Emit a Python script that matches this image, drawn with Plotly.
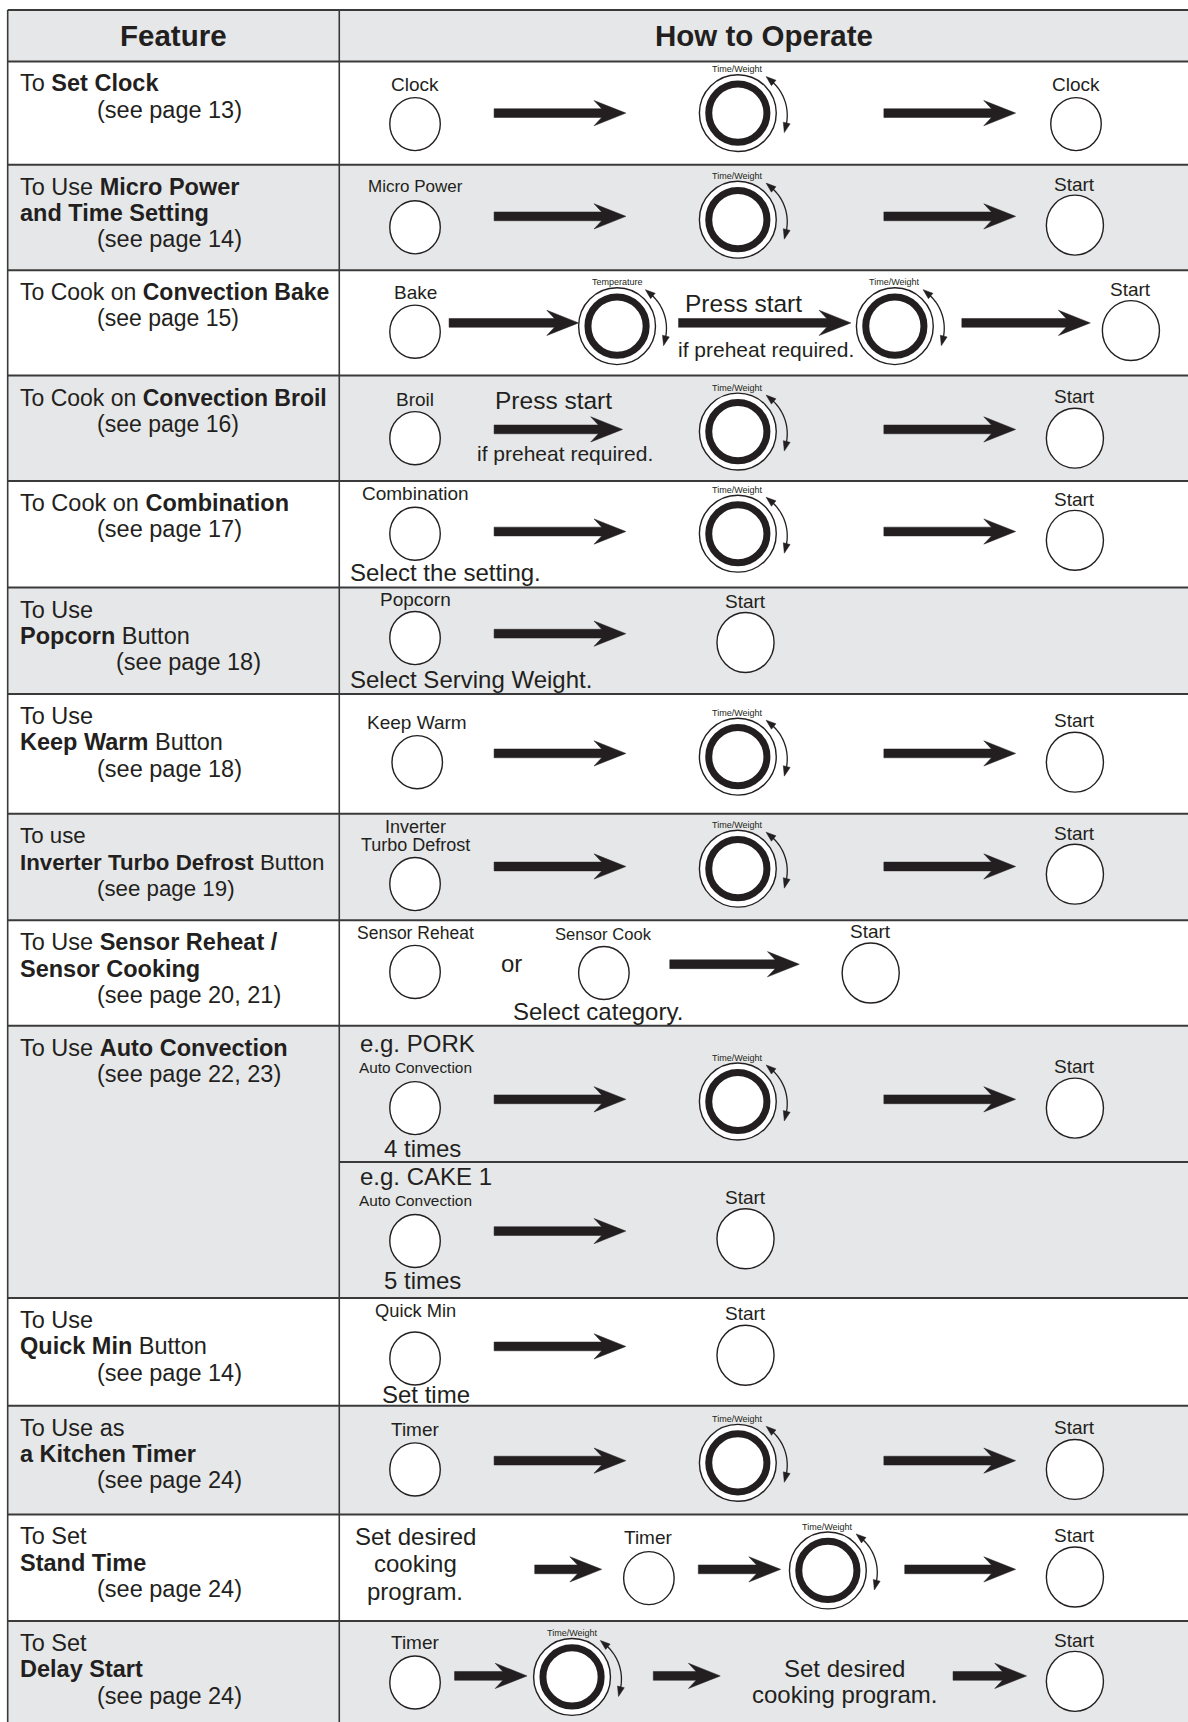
import math
import plotly.graph_objects as go

# ---------------- data ----------------
headers = ["Feature", "How to Operate"]

feature_lines = [
    ["To <b>Set Clock</b>", "(see page 13)"],
    ["To Use <b>Micro Power</b>", "<b>and Time Setting</b>", "(see page 14)"],
    ["To Cook on <b>Convection Bake</b>", "(see page 15)"],
    ["To Cook on <b>Convection Broil</b>", "(see page 16)"],
    ["To Cook on <b>Combination</b>", "(see page 17)"],
    ["To Use", "<b>Popcorn</b> Button", "(see page 18)"],
    ["To Use", "<b>Keep Warm</b> Button", "(see page 18)"],
    ["To use", "<b>Inverter Turbo Defrost</b> Button", "(see page 19)"],
    ["To Use <b>Sensor Reheat /</b>", "<b>Sensor Cooking</b>", "(see page 20, 21)"],
    ["To Use <b>Auto Convection</b>", "(see page 22, 23)"],
    ["To Use", "<b>Quick Min</b> Button", "(see page 14)"],
    ["To Use as", "<b>a Kitchen Timer</b>", "(see page 24)"],
    ["To Set", "<b>Stand Time</b>", "(see page 24)"],
    ["To Set", "<b>Delay Start</b>", "(see page 24)"],
]

TW = "Time/Weight"
operations = [
    [("btn", "Clock"), ("arrow", ""), ("dial", TW), ("arrow", ""), ("btn", "Clock")],
    [("btn", "Micro Power"), ("arrow", ""), ("dial", TW), ("arrow", ""), ("btn", "Start")],
    [("btn", "Bake"), ("arrow", ""), ("dial", "Temperature"), ("arrow", ""),
     ("note", "Press start"), ("note", "if preheat required."), ("dial", TW),
     ("arrow", ""), ("btn", "Start")],
    [("btn", "Broil"), ("note", "Press start"), ("arrow", ""), ("note", "if preheat required."),
     ("dial", TW), ("arrow", ""), ("btn", "Start")],
    [("btn", "Combination"), ("note", "Select the setting."), ("arrow", ""), ("dial", TW),
     ("arrow", ""), ("btn", "Start")],
    [("btn", "Popcorn"), ("note", "Select Serving Weight."), ("arrow", ""), ("btn", "Start")],
    [("btn", "Keep Warm"), ("arrow", ""), ("dial", TW), ("arrow", ""), ("btn", "Start")],
    [("btn", "Inverter|Turbo Defrost"), ("arrow", ""), ("dial", TW), ("arrow", ""), ("btn", "Start")],
    [("btn", "Sensor Reheat"), ("note", "or"), ("btn", "Sensor Cook"), ("note", "Select category."),
     ("arrow", ""), ("btn", "Start")],
    [("note", "e.g. PORK"), ("btn", "Auto Convection"), ("note", "4 times"), ("arrow", ""),
     ("dial", TW), ("arrow", ""), ("btn", "Start"),
     ("note", "e.g. CAKE 1"), ("btn", "Auto Convection"), ("note", "5 times"), ("arrow", ""),
     ("btn", "Start")],
    [("btn", "Quick Min"), ("note", "Set time"), ("arrow", ""), ("btn", "Start")],
    [("btn", "Timer"), ("arrow", ""), ("dial", TW), ("arrow", ""), ("btn", "Start")],
    [("note", "Set desired"), ("note", "cooking"), ("note", "program."), ("arrow", ""),
     ("btn", "Timer"), ("arrow", ""), ("dial", TW), ("arrow", ""), ("btn", "Start")],
    [("btn", "Timer"), ("arrow", ""), ("dial", TW), ("arrow", ""), ("note", "Set desired"),
     ("note", "cooking program."), ("arrow", ""), ("btn", "Start")],
]

# ---------------- layout (drawing grid 1082 x 1568, rendered at 1188 x 1722) ----------------
GW, GH = 1082, 1568
OFF = 0
TABLE_L, TABLE_R, COL_X, TABLE_T = 7, 1085, 309, 9
HEADER_B = 56
row_edges = [56, 150, 246, 342, 438, 535, 632, 741, 838, 934, 1182, 1280, 1379, 1476, 1580]
sub_dividers = [1058]             # inner line of the Auto Convection row
ref_indent = [87, 87, 87, 87, 87, 105, 87, 87, 87, 87, 87, 87, 87, 87]
feature_size = [23.5] * 14
feature_size[2] = 23.0
feature_size[3] = 23.0
feature_size[7] = 22.3

# positions: btn -> (cx, label_y, cy, r, label_size), arrow -> (x0, x1, y), dial -> (cx, cy),
#            note -> (x, y, size, anchor)
N = 24  # note text size
positions = [
    [(378, 77, 113, 23, 19), (450, 570, 103), (672, 103), (805, 925, 103), (980, 77, 113, 23, 19)],
    [(378, 170, 207, 23, 17), (450, 570, 197), (672, 200), (805, 925, 197), (979, 168, 205, 26, 19)],
    [(378, 266, 302, 23, 19), (409, 527, 294), (562, 297), (618, 775, 294),
     (677, 276, 24.5, "center"), (698, 318, 21, "center"), (815, 297),
     (876, 993, 294), (1030, 264, 301, 26, 19)],
    [(378, 364, 399, 23, 19), (504, 365, 24.5, "center"), (450, 567, 391), (515, 413, 21, "center"),
     (672, 393), (805, 925, 391), (979, 361, 399, 26, 19)],
    [(378, 449, 486, 23, 19), (318, 521, N, "left"), (450, 570, 484), (672, 486),
     (805, 925, 484), (979, 455, 492, 26, 19)],
    [(378, 546, 581, 23, 19), (318, 619, N, "left"), (450, 570, 577), (679, 548, 585, 26, 19)],
    [(380, 658, 694, 23, 19), (450, 570, 686), (672, 689), (805, 925, 686), (979, 656, 694, 26, 19)],
    [(378, 761, 805, 23, 18), (450, 570, 789), (672, 791), (805, 925, 789), (979, 759, 796, 26, 19)],
    [(378, 850, 885, 23, 17.5), (466, 877, N, "center"), (550, 851, 886, 23, 16.6),
     (545, 921, N, "center"), (610, 728, 878), (793, 848, 886, 26, 19)],
    [(327, 950, N, "left"), (378, 972, 1009, 23, 15.4), (385, 1046, N, "center"), (450, 570, 1001),
     (672, 1003), (805, 925, 1001), (979, 971, 1009, 26, 19),
     (327, 1071, N, "left"), (378, 1093, 1130, 23, 15.4), (385, 1166, N, "center"),
     (450, 570, 1121), (679, 1090, 1128, 26, 19)],
    [(378, 1193, 1237, 23, 18.3), (388, 1270, N, "center"), (450, 570, 1226), (679, 1196, 1234, 26, 19)],
    [(378, 1302, 1338, 23, 19), (450, 570, 1330), (672, 1332), (805, 925, 1330), (979, 1300, 1338, 26, 19)],
    [(378, 1399, N, "center"), (378, 1424, N, "center"), (378, 1449, N, "center"),
     (487, 548, 1429), (591, 1400, 1437, 23, 19), (636, 711, 1429), (754, 1430),
     (824, 925, 1429), (979, 1398, 1436, 26, 19)],
    [(378, 1496, 1532, 23, 19), (414, 480, 1526), (521, 1527), (595, 656, 1526),
     (769, 1519, N, "center"), (769, 1543, N, "center"), (868, 935, 1526),
     (979, 1494, 1531, 26, 19)],
]

FONT = "Liberation Sans, Arial, Helvetica, sans-serif"
INK = "#231f20"
GRAY = "#e6e7e8"
RULE = "#3a3a3a"

shapes, annotations = [], []


def add_text(s, x, y, size, anchor="center"):
    annotations.append(dict(text=s, x=x, y=y, xref="x", yref="y", showarrow=False,
                            xanchor=anchor, yanchor="middle", borderpad=0,
                            font=dict(size=size, family=FONT, color=INK)))


def add_line(x0, y0, x1, y1, w=2.0, color=RULE):
    shapes.append(dict(type="line", xref="x", yref="y", x0=x0, y0=y0, x1=x1, y1=y1,
                       line=dict(color=color, width=w)))


def add_button(label, cx, ly, cy, r, size):
    shapes.append(dict(type="circle", xref="x", yref="y", x0=cx - r, x1=cx + r,
                       y0=cy - r * 1.05, y1=cy + r * 1.05, fillcolor="white",
                       line=dict(color=INK, width=1.4)))
    parts = label.split("|")
    for i, p in enumerate(parts):
        add_text(p, cx, ly - 8 * (len(parts) - 1) + 16 * i, size)


def add_arrow(x0, x1, y):
    h, hh, hl, notch = 4.0, 11.5, 29, 22
    p = (f"M{x0},{y - h} L{x1 - notch},{y - h} L{x1 - hl},{y - hh} L{x1},{y} "
         f"L{x1 - hl},{y + hh} L{x1 - notch},{y + h} L{x0},{y + h} Z")
    shapes.append(dict(type="path", xref="x", yref="y", path=p, fillcolor=INK,
                       line=dict(color=INK, width=0.5)))


def add_dial(label, cx, cy):
    ro, rt = 35, 26.5
    shapes.append(dict(type="circle", xref="x", yref="y", x0=cx - ro, x1=cx + ro,
                       y0=cy - ro, y1=cy + ro, fillcolor="white", line=dict(color=INK, width=1.4)))
    shapes.append(dict(type="circle", xref="x", yref="y", x0=cx - rt, x1=cx + rt,
                       y0=cy - rt, y1=cy + rt, fillcolor="white", line=dict(color=INK, width=7)))
    # rotation double-arrow
    ax, ay, R = cx + 4, cy + 2, 41
    t0, t1 = math.radians(-14), math.radians(50)
    n = 24
    pts = []
    for i in range(n + 1):
        t = t0 + (t1 - t0) * i / n
        pts.append((ax + R * math.cos(t), ay - R * math.sin(t)))
    path = "M" + " L".join(f"{x:.2f},{y:.2f}" for x, y in pts)
    shapes.append(dict(type="path", xref="x", yref="y", path=path,
                       line=dict(color=INK, width=1.3)))
    for t, sgn in ((t1, 1), (t0, -1)):
        ex, ey = ax + R * math.cos(t), ay - R * math.sin(t)
        dx, dy = -math.sin(t) * sgn, -math.cos(t) * sgn
        tx, ty = ex + dx * 6, ey + dy * 6
        bx, by = ex - dx * 3, ey - dy * 3
        px, py = -dy, dx
        tri = (f"M{tx:.2f},{ty:.2f} L{bx + px * 3.2:.2f},{by + py * 3.2:.2f} "
               f"L{bx - px * 3.2:.2f},{by - py * 3.2:.2f} Z")
        shapes.append(dict(type="path", xref="x", yref="y", path=tri, fillcolor=INK,
                           line=dict(color=INK, width=0.5)))
    add_text(label, cx, cy - 40, 9)


# backgrounds
shapes.append(dict(type="rect", xref="x", yref="y", x0=TABLE_L, x1=TABLE_R, y0=TABLE_T, y1=HEADER_B,
                   fillcolor=GRAY, line=dict(width=0), layer="below"))
for i in range(len(feature_lines)):
    if i % 2 == 1:
        shapes.append(dict(type="rect", xref="x", yref="y", x0=TABLE_L, x1=TABLE_R,
                           y0=row_edges[i], y1=row_edges[i + 1], fillcolor=GRAY,
                           line=dict(width=0), layer="below"))

# header text
add_text("<b>%s</b>" % headers[0], (TABLE_L + COL_X) / 2, 32, 29.5)
add_text("<b>%s</b>" % headers[1], (COL_X + 1082) / 2, 32, 29.5)

# feature column text
for i, lines in enumerate(feature_lines):
    top = row_edges[i]
    for j, s in enumerate(lines):
        x = ref_indent[i] if s.startswith("(see") else 17
        add_text(s, x, top + 20 + 24 * j, feature_size[i], anchor="left")

# operation column
for ops, pos in zip(operations, positions):
    for (kind, txt), p in zip(ops, pos):
        if kind == "btn":
            add_button(txt, *p)
        elif kind == "arrow":
            add_arrow(*p)
        elif kind == "dial":
            add_dial(txt, *p)
        else:
            add_text(txt, p[0], p[1], p[2], anchor=p[3])

# rules
add_line(TABLE_L, TABLE_T, TABLE_R, TABLE_T)
add_line(TABLE_L, HEADER_B, TABLE_R, HEADER_B)
for y in row_edges[1:-1]:
    add_line(TABLE_L, y, TABLE_R, y)
for y in sub_dividers:
    add_line(COL_X, y, TABLE_R, y)
add_line(TABLE_L, TABLE_T, TABLE_L, GH + 20, w=1.6)
add_line(COL_X, TABLE_T, COL_X, GH + 20, w=1.6)

fig = go.Figure()
fig.add_trace(go.Scatter(x=[OFF], y=[OFF], mode="markers", marker=dict(opacity=0),
                         hoverinfo="skip", showlegend=False))
fig.update_layout(
    width=1188, height=1722, margin=dict(l=0, r=0, t=0, b=0),
    paper_bgcolor="white", plot_bgcolor="white",
    xaxis=dict(range=[OFF, GW + OFF], visible=False, fixedrange=True),
    yaxis=dict(range=[GH + OFF, OFF], visible=False, fixedrange=True),
    shapes=shapes, annotations=annotations, showlegend=False,
)
fig.write_html("out.html", config={"displayModeBar": False},
               post_script="document.body.style.margin='0';document.documentElement.style.overflow='hidden';")
